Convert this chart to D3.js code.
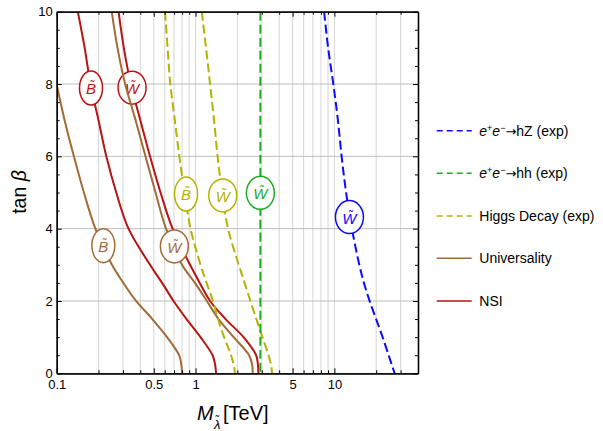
<!DOCTYPE html>
<html><head><meta charset="utf-8">
<script src="https://cdn.jsdelivr.net/npm/d3@7"></script>
<style>
body{margin:0;background:#fff}
svg{display:block;font-family:"Liberation Sans",Arial,sans-serif}
</style>
</head><body><svg id="c" width="603" height="431"></svg>
<script>
// ---------- data (M in TeV at each tan beta) ----------
const tanBeta   = [0, 0.25, 0.5, 1, 1.5, 2, 2.5, 3, 4, 5, 6, 7, 8, 9, 10];
const nsiBino   = [1.405, 1.382, 1.326, 1.086, 0.861, 0.694, 0.574, 0.470, 0.329, 0.2684, 0.2277, 0.200, 0.175, 0.159, 0.142];
const nsiWino   = [2.835, 2.811, 2.729, 2.217, 1.645, 1.272, 1.072, 0.913, 0.683, 0.5595, 0.470, 0.4002, 0.3419, 0.3043, 0.279];
const univBino  = [0.799, 0.789, 0.761, 0.623, 0.488, 0.373, 0.302, 0.250, 0.190, 0.157, 0.133, 0.114, 0.0997, 0.0873, 0.0758];
const univWino  = [2.583, 2.553, 2.429, 1.882, 1.464, 1.206, 0.990, 0.799, 0.613, 0.515, 0.436, 0.370, 0.311, 0.274, 0.249];
const higgsBino = [1.926, 1.879, 1.802, 1.605, 1.453, 1.337, 1.200, 1.086, 0.920, 0.833, 0.764, 0.709, 0.658, 0.629, 0.603];
const higgsWino = [3.56, 3.487, 3.357, 3.029, 2.742, 2.482, 2.254, 2.047, 1.714, 1.552, 1.441, 1.359, 1.272, 1.190, 1.108];
const hhWino    = [2.93, 2.93, 2.93, 2.93, 2.93, 2.93, 2.93, 2.93, 2.93, 2.93, 2.93, 2.93, 2.93, 2.93, 2.93];
const hzWino    = [27.14, 25.83, 24.58, 22.25, 19.97, 17.93, 16.32, 15.11, 13.37, 12.14, 11.27, 10.60, 9.82, 9.01, 8.43];

// curve labels: glyph, M [TeV], tan beta
const labelGlyph = ["B", "W", "B", "W", "B", "W", "W", "W"];
const labelM     = [0.1766, 0.349, 0.2167, 0.7035, 0.854, 1.570, 2.93, 12.83];
const labelTan   = [7.89, 7.90, 3.53, 3.51, 4.96, 4.92, 4.99, 4.32];

// axis ticks
const xMajor = [0.1, 0.5, 1, 5, 10];
const xMinor = [0.2, 0.3, 0.4, 0.6, 0.7, 0.8, 0.9, 2, 3, 4, 6, 7, 8, 9, 20, 30];
const xGrid  = [0.2, 0.3, 0.4, 0.5, 0.6, 0.7, 0.8, 0.9, 1, 2, 3, 4, 5, 6, 7, 8, 9, 10, 20, 30];
const yMajor = [0, 2, 4, 6, 8, 10];
const yMinor = [0.5,1,1.5,2.5,3,3.5,4.5,5,5.5,6.5,7,7.5,8.5,9,9.5];
const yGrid  = [2, 4, 6, 8];

// legend
const legendNames = ["hZ", "hh", "Higgs Decay (exp)", "Universality", "NSI"];

// ---------- styling ----------
const C = {red:"#b81414", brown:"#a36b38", yellow:"#b3b300", green:"#1faa1f", blue:"#0a0aff"};
const curves = [
  {v:nsiBino,   color:C.red,    dash:null, lab:0},
  {v:nsiWino,   color:C.red,    dash:null, lab:1},
  {v:univBino,  color:C.brown,  dash:null, lab:2},
  {v:univWino,  color:C.brown,  dash:null, lab:3},
  {v:higgsBino, color:C.yellow, dash:"9,4", lab:4},
  {v:higgsWino, color:C.yellow, dash:"9,4", lab:5},
  {v:hhWino,    color:C.green,  dash:"9,4", lab:6},
  {v:hzWino,    color:C.blue,   dash:"9,4", lab:7}
];

const svg = d3.select("#c");
svg.append("rect").attr("width",603).attr("height",431).attr("fill","#fff");
const L=56.7, R=418, T=11.7, B=373.3;
const x = d3.scaleLog().domain([0.1, 40]).range([L, R]);
const y = d3.scaleLinear().domain([0, 10]).range([B, T]);

// grid
svg.append("g").selectAll("line").data(xGrid).join("line")
  .attr("x1",d=>x(d)).attr("x2",d=>x(d)).attr("y1",T).attr("y2",B)
  .attr("stroke","#d6d6d6").attr("stroke-width",1);
svg.append("g").selectAll("line").data(yGrid).join("line")
  .attr("x1",L).attr("x2",R).attr("y1",d=>y(d)).attr("y2",d=>y(d))
  .attr("stroke","#bdbdbd").attr("stroke-width",1);

svg.append("clipPath").attr("id","clip").append("rect")
  .attr("x",L).attr("y",T).attr("width",R-L).attr("height",B-T);

const line = d3.line().x(d=>x(d[0])).y(d=>y(d[1])).curve(d3.curveCatmullRom.alpha(0.5));
const plot = svg.append("g").attr("clip-path","url(#clip)");

curves.forEach(c=>{
  const pts = tanBeta.map((t,i)=>[c.v[i], t]).reverse();
  plot.append("path").attr("d", line(pts)).attr("fill","none")
    .attr("stroke", c.color).attr("stroke-width", 2)
    .attr("stroke-dasharray", c.dash);
  const i = c.lab;
  const cx = x(labelM[i]), cy = y(labelTan[i]);
  const g = plot.append("g");
  const isB = labelGlyph[i] === "B";
  g.append("ellipse").attr("cx",cx).attr("cy",cy)
    .attr("rx", isB ? 11.5 : 14).attr("ry", isB ? 17 : 16.5)
    .attr("fill","#fff").attr("stroke",c.color).attr("stroke-width",1.5);
  g.append("text").attr("x",cx).attr("y",cy+6.5).attr("text-anchor","middle")
    .attr("font-size",15).attr("font-style","italic").attr("fill",c.color)
    .text(labelGlyph[i]);
  g.append("text").attr("x",cx+1.5).attr("y",cy+2.5).attr("text-anchor","middle")
    .attr("font-size",12).attr("fill",c.color).text("\u02DC");
});

// axes
function styleAxis(g){
  g.selectAll(".domain").attr("stroke","#000").attr("stroke-width",1.3);
  g.selectAll(".tick line").attr("stroke","#000").attr("stroke-width",1);
  g.selectAll("text").attr("font-size",13).attr("fill","#000")
    .attr("font-family","'Liberation Sans',Arial,sans-serif");
}
svg.append("g").attr("transform",`translate(0,${B})`)
  .call(d3.axisBottom(x).tickValues(xMajor).tickFormat(d=>String(d)).tickSize(-5).tickSizeOuter(0).tickPadding(6)).call(styleAxis);
svg.append("g").attr("transform",`translate(0,${B})`)
  .call(d3.axisBottom(x).tickValues(xMinor).tickFormat("").tickSize(-3).tickSizeOuter(0)).call(styleAxis);
svg.append("g").attr("transform",`translate(0,${T})`)
  .call(d3.axisTop(x).tickValues(xMajor).tickFormat("").tickSize(-5).tickSizeOuter(0)).call(styleAxis);
svg.append("g").attr("transform",`translate(0,${T})`)
  .call(d3.axisTop(x).tickValues(xMinor).tickFormat("").tickSize(-3).tickSizeOuter(0)).call(styleAxis);
svg.append("g").attr("transform",`translate(${L},0)`)
  .call(d3.axisLeft(y).tickValues(yMajor).tickFormat(d=>String(d)).tickSize(-5).tickSizeOuter(0).tickPadding(4)).call(styleAxis);
svg.append("g").attr("transform",`translate(${L},0)`)
  .call(d3.axisLeft(y).tickValues(yMinor).tickFormat("").tickSize(-3).tickSizeOuter(0)).call(styleAxis);
svg.append("g").attr("transform",`translate(${R},0)`)
  .call(d3.axisRight(y).tickValues(yMajor).tickFormat("").tickSize(-5).tickSizeOuter(0)).call(styleAxis);
svg.append("g").attr("transform",`translate(${R},0)`)
  .call(d3.axisRight(y).tickValues(yMinor).tickFormat("").tickSize(-3).tickSizeOuter(0)).call(styleAxis);

// axis titles
const yt = svg.append("text").attr("transform","translate(26,192) rotate(-90)")
  .attr("text-anchor","middle").attr("font-size",19.5).attr("fill","#000");
yt.append("tspan").text("tan ");
yt.append("tspan").attr("font-style","italic").text("\u03B2");

svg.append("text").attr("x",197).attr("y",420).attr("font-size",20).attr("font-style","italic").text("M");
svg.append("text").attr("x",214).attr("y",429).attr("font-size",13).attr("font-style","italic").text("\u03BB");
svg.append("text").attr("x",215.5).attr("y",423).attr("font-size",11).text("\u02DC");
svg.append("text").attr("x",223).attr("y",420).attr("font-size",20).text("[TeV]");

// legend
const legY = [130.7, 173.3, 216, 258.3, 301];
const legColor = [C.blue, C.green, C.yellow, C.brown, C.red];
const legDash = ["6,4","6,4","6,4",null,null];
legendNames.forEach((n,i)=>{
  svg.append("line").attr("x1",436.7).attr("x2",471.7).attr("y1",legY[i]).attr("y2",legY[i])
    .attr("stroke",legColor[i]).attr("stroke-width",1.6).attr("stroke-dasharray",legDash[i]);
  const t = svg.append("text").attr("x",479.3).attr("y",legY[i]+5).attr("font-size",14).attr("fill","#000");
  if (i < 2) {
    t.append("tspan").attr("font-style","italic").text("e");
    t.append("tspan").attr("dy",-5).attr("font-size",9).text("+");
    t.append("tspan").attr("dy",5).attr("font-style","italic").text("e");
    t.append("tspan").attr("dy",-5).attr("font-size",9).text("\u2212");
    t.append("tspan").attr("dy",5).attr("font-family","'DejaVu Sans'").attr("font-size",13).text("\u2192");
    t.append("tspan").text(n + " (exp)");
  } else {
    t.text(n);
  }
});
</script>
</body></html>
